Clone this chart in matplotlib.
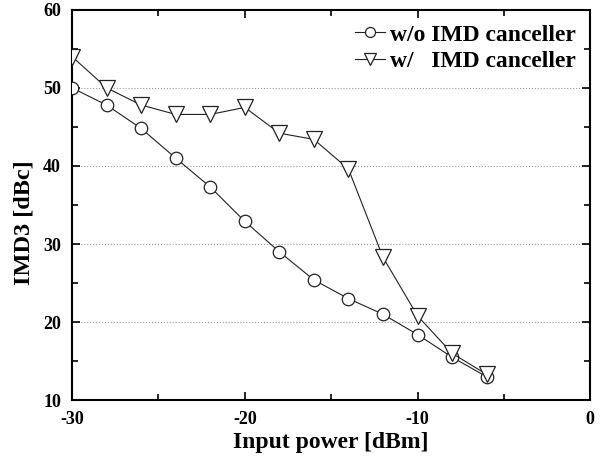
import matplotlib
matplotlib.use('Agg')
import matplotlib.pyplot as plt
from matplotlib.ticker import MultipleLocator

input_power = [-30, -28, -26, -24, -22, -20, -18, -16, -14, -12, -10, -8, -6]
imd3_without = [50, 47.8, 44.8, 41, 37.3, 32.9, 29, 25.4, 23, 21, 18.4, 15.5, 13]
imd3_with = [54, 50, 47.8, 46.6, 46.6, 47.5, 44.2, 43.4, 39.6, 28.3, 20.8, 16, 13.3]

plt.rcParams['font.family'] = ['Liberation Serif', 'DejaVu Serif']
plt.rcParams['font.weight'] = 'bold'
plt.rcParams['axes.unicode_minus'] = False

fig = plt.figure(figsize=(6.06, 4.68), dpi=100)
ax = fig.add_axes([0.119, 0.145, 0.855, 0.834])

ax.plot(input_power, imd3_without, color='#222222', lw=0.8, marker='o', ms=9,
        mfc='white', mec='#222222', mew=0.9, label='w/o IMD canceller', zorder=3)
ax.plot(input_power, imd3_with, color='#222222', lw=0.8, marker='v', ms=11,
        mfc='white', mec='#222222', mew=0.9, label='w/   IMD canceller', zorder=3)

ax.set_xlim(-30, 0)
ax.set_ylim(10, 60)
ax.xaxis.set_major_locator(MultipleLocator(10))
ax.xaxis.set_minor_locator(MultipleLocator(5))
ax.yaxis.set_major_locator(MultipleLocator(10))
ax.yaxis.set_minor_locator(MultipleLocator(5))
ax.tick_params(which='both', direction='in', top=True, right=True, width=1.2)
ax.tick_params(which='major', length=6, labelsize=13, pad=8)
ax.tick_params(which='minor', length=4)
for lab in ax.get_xticklabels() + ax.get_yticklabels():
    lab.set_fontweight('bold')
for sp in ax.spines.values():
    sp.set_linewidth(1.5)

for yv in [20, 30, 40, 50]:
    ax.axhline(yv, color='#999999', lw=0.8, ls=':', zorder=1)

ax.set_xlabel('Input power [dBm]', fontsize=17, fontweight='bold', labelpad=3)
ax.set_ylabel('IMD3 [dBc]', fontsize=17.5, fontweight='bold')
ax.yaxis.set_label_coords(-0.072, 0.455)

ax.legend(loc='upper right', frameon=False, handlelength=1.3,
          handletextpad=0.2, borderaxespad=0.2, labelspacing=0.2,
          markerscale=0.8, prop={'weight': 'bold', 'size': 17})

fig.savefig('out.png', dpi=100)
